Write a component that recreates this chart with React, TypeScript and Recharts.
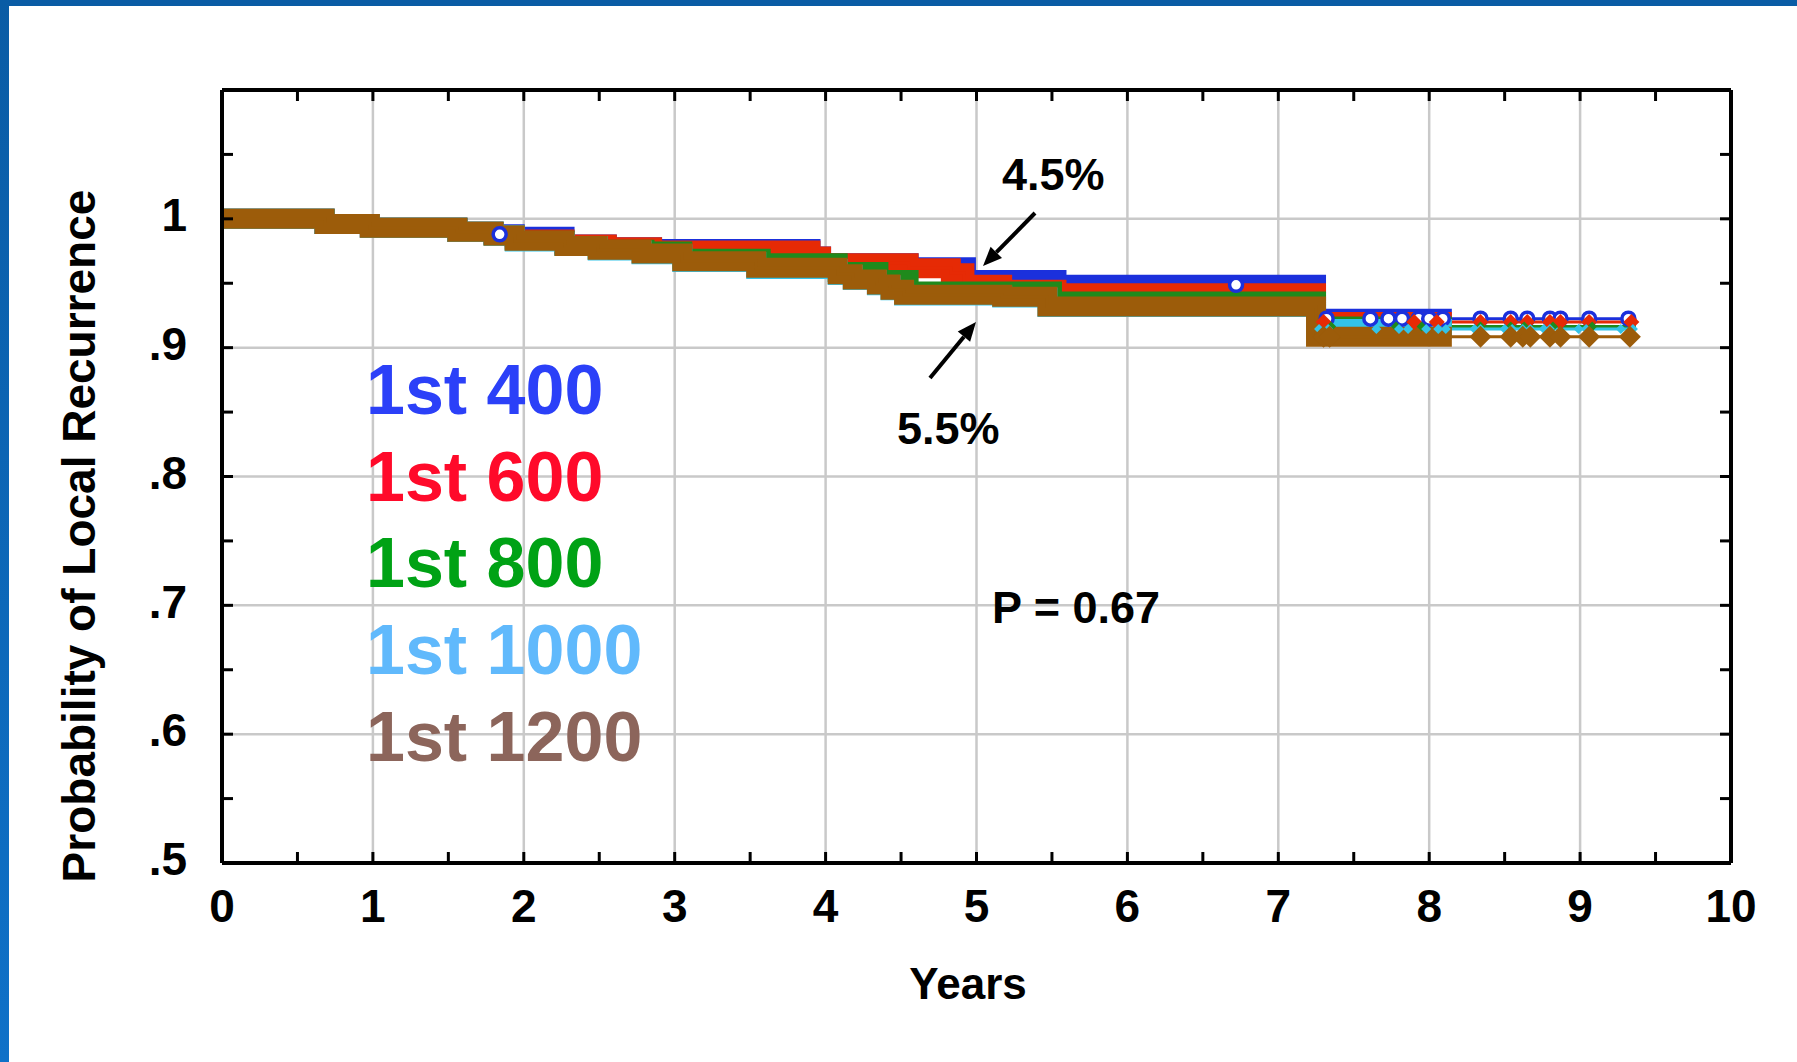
import React from 'react';
import { ComposedChart, Line, Scatter, XAxis, YAxis, CartesianGrid, Legend } from 'recharts';

const FONT = "'Liberation Sans', Arial, Helvetica, sans-serif";

// axis ticks
const YEAR_TICKS = [0, 1, 2, 3, 4, 5, 6, 7, 8, 9, 10];
const HALF_YEAR_TICKS = [0.5, 1, 1.5, 2, 2.5, 3, 3.5, 4, 4.5, 5, 5.5, 6, 6.5, 7, 7.5, 8, 8.5, 9, 9.5];
const PROB_TICKS = [0.5, 0.6, 0.7, 0.8, 0.9, 1];
const PROB_MINOR_TICKS = [0.55, 0.6, 0.65, 0.7, 0.75, 0.8, 0.85, 0.9, 0.95, 1, 1.05];

const GROUPS = ['1st 400', '1st 600', '1st 800', '1st 1000', '1st 1200'];

// Kaplan-Meier steps (years, probability)
const T_400 = [0, 0.68, 0.98, 1.56, 1.8, 1.94, 2.27, 2.55, 2.85, 3.9, 3.97, 4.55, 4.93, 5.53, 7.25, 9.37];
const S_400 = [1, 0.996, 0.993, 0.99, 0.988, 0.986, 0.98, 0.978, 0.9765, 0.9707, 0.9656, 0.9625, 0.9526, 0.9488, 0.9225, 0.9225];

const T_600 = [0, 0.68, 0.98, 1.56, 1.8, 1.94, 2.27, 2.55, 2.85, 3.9, 3.97, 4.55, 4.83, 4.92, 5.17, 5.53, 7.25, 9.37];
const S_600 = [1, 0.996, 0.993, 0.99, 0.987, 0.984, 0.98, 0.978, 0.9755, 0.9707, 0.9656, 0.9617, 0.9578, 0.9488, 0.9449, 0.9423, 0.92, 0.92];

const T_800 = [0, 0.68, 0.98, 1.56, 1.8, 1.94, 2.27, 2.49, 2.8, 3.05, 3.57, 4.08, 4.35, 4.55, 5.5, 7.25, 9.37];
const S_800 = [1, 0.996, 0.993, 0.99, 0.987, 0.983, 0.979, 0.976, 0.9746, 0.969, 0.9656, 0.9588, 0.9526, 0.9435, 0.9358, 0.9165, 0.9165];

const T_1000 = [0, 0.68, 0.98, 1.56, 1.8, 1.94, 2.27, 2.49, 2.78, 3.05, 3.54, 4.08, 4.18, 4.34, 4.43, 4.52, 5.17, 5.47, 7.25, 9.37];
const S_1000 = [1, 0.996, 0.993, 0.99, 0.987, 0.9825, 0.979, 0.9755, 0.9725, 0.9665, 0.961, 0.9565, 0.9525, 0.9485, 0.9445, 0.9405, 0.939, 0.9315, 0.9145, 0.9145];

const T_1200 = [0, 0.68, 0.98, 1.56, 1.8, 1.94, 2.27, 2.49, 2.78, 3.05, 3.54, 4.08, 4.18, 4.34, 4.43, 4.52, 5.17, 5.47, 7.25, 9.37];
const S_1200 = [1, 0.996, 0.993, 0.99, 0.987, 0.983, 0.979, 0.976, 0.973, 0.967, 0.962, 0.957, 0.953, 0.949, 0.945, 0.941, 0.9395, 0.932, 0.9085, 0.9085];

// censored observations that show up as separate marks late in follow-up
const CENSOR_400 = [1.84, 6.72, 7.32, 7.61, 7.73, 7.82, 7.93, 8.0, 8.09, 8.34, 8.54, 8.65, 8.8, 8.87, 9.06, 9.32];
const CENSOR_600 = [7.3, 7.9, 8.05, 8.34, 8.54, 8.65, 8.8, 8.87, 9.06, 9.34];
const CENSOR_800 = [7.35, 7.78, 7.95, 8.34, 8.54, 8.63, 8.82, 9.08];
const CENSOR_1000 = [7.27, 7.33, 7.65, 7.8, 7.86, 7.98, 8.06, 8.11, 8.3, 8.34, 8.5, 8.55, 8.62, 8.67, 8.76, 8.8, 8.99, 9.04, 9.27, 9.35];
const CENSOR_1200 = [7.3, 7.34, 8.34, 8.54, 8.62, 8.67, 8.8, 8.87, 9.06, 9.33];

// up to here censoring is so dense that the marks merge into a thick band
const DENSE_END = 8.15;

const toSteps = (t: number[], s: number[]) => t.map((x, i) => ({ t: x, s: s[i] }));
const valueAt = (pts: { t: number; s: number }[], x: number) => {
  let v = pts[0].s;
  for (const p of pts) if (p.t <= x) v = p.s;
  return v;
};

type Marker = 'circle' | 'diamond' | 'smallDiamond' | 'bigDiamond';

const SERIES = [
  { key: 'g400', steps: toSteps(T_400, S_400), censor: CENSOR_400, color: '#1b30dc', legend: '#2b40f8', marker: 'circle' as Marker },
  { key: 'g600', steps: toSteps(T_600, S_600), censor: CENSOR_600, color: '#e62a05', legend: '#ff0a2a', marker: 'diamond' as Marker },
  { key: 'g800', steps: toSteps(T_800, S_800), censor: CENSOR_800, color: '#1f8a1c', legend: '#00a215', marker: 'smallDiamond' as Marker },
  { key: 'g1000', steps: toSteps(T_1000, S_1000), censor: CENSOR_1000, color: '#33c3e8', legend: '#60b9fc', marker: 'smallDiamond' as Marker },
  { key: 'g1200', steps: toSteps(T_1200, S_1200), censor: CENSOR_1200, color: '#9c5c0a', legend: '#8c655b', marker: 'bigDiamond' as Marker },
];

const makeShape = (kind: Marker, color: string) => (props: any) => {
  const { cx, cy } = props;
  if (cx == null || cy == null) return <g />;
  if (kind === 'circle') {
    return <circle cx={cx} cy={cy} r={6.5} fill="#fff" stroke={color} strokeWidth={3.5} />;
  }
  const h = kind === 'bigDiamond' ? 11 : kind === 'diamond' ? 8 : 5;
  return (
    <polygon
      points={`${cx},${cy - h} ${cx + h},${cy} ${cx},${cy + h} ${cx - h},${cy}`}
      fill={color}
    />
  );
};

const arrow = (x1: number, y1: number, x2: number, y2: number) => {
  const len = Math.hypot(x2 - x1, y2 - y1);
  const ux = (x2 - x1) / len;
  const uy = (y2 - y1) / len;
  const bx = x2 - ux * 19;
  const by = y2 - uy * 19;
  const px = -uy * 8;
  const py = ux * 8;
  return (
    <g>
      <line x1={x1} y1={y1} x2={bx} y2={by} stroke="#000" strokeWidth={4} />
      <polygon points={`${x2},${y2} ${bx + px},${by + py} ${bx - px},${by - py}`} fill="#000" />
    </g>
  );
};

const LegendBlock = () => (
  <div>
    {GROUPS.map((g, i) => (
      <div
        key={g}
        style={{
          color: SERIES[i].legend,
          fontFamily: FONT,
          fontWeight: 'bold',
          fontSize: 70,
          lineHeight: '86.7px',
          whiteSpace: 'nowrap',
        }}
      >
        {g}
      </div>
    ))}
  </div>
);

const probLabel = (v: number) => (v > 0.999 ? '1' : '.' + Math.round(v * 10));
const noLabel = () => <g />;

const frameProps = {
  type: 'number' as const,
  allowDataOverflow: true,
  interval: 0 as const,
  mirror: true,
  tick: noLabel,
  tickSize: 11,
  tickLine: { stroke: '#000', strokeWidth: 3 },
  axisLine: { stroke: '#000', strokeWidth: 4 },
};

const App: React.FC = () => {
  const items: React.ReactElement[] = [];
  SERIES.forEach((sr) => {
    const dense = [...sr.steps.filter((p) => p.t < DENSE_END), { t: DENSE_END, s: valueAt(sr.steps, DENSE_END) }];
    const marks = sr.censor.map((c) => ({ t: c, s: valueAt(sr.steps, c) }));
    items.push(
      <Line
        key={sr.key + '-band'}
        data={dense}
        dataKey="s"
        xAxisId="minB"
        yAxisId="main"
        type="stepAfter"
        stroke={sr.color}
        strokeWidth={20}
        strokeLinejoin="miter"
        dot={false}
        activeDot={false}
        isAnimationActive={false}
      />,
      <Line
        key={sr.key + '-line'}
        data={sr.steps}
        dataKey="s"
        xAxisId="main"
        yAxisId="main"
        type="stepAfter"
        stroke={sr.color}
        strokeWidth={3}
        dot={false}
        activeDot={false}
        isAnimationActive={false}
      />,
      <Scatter
        key={sr.key + '-censor'}
        data={marks}
        dataKey="s"
        xAxisId="minT"
        yAxisId="main"
        shape={makeShape(sr.marker, sr.color)}
        isAnimationActive={false}
      />
    );
  });

  const tickFont = { fill: '#000', fontSize: 46, fontWeight: 'bold', fontFamily: FONT };

  return (
    <div style={{ position: 'relative', width: 1797, height: 1062, background: '#fff', overflow: 'hidden' }}>
      <style>{'body{margin:0;}'}</style>
      <ComposedChart width={1797} height={1062} margin={{ top: 90, right: 66, bottom: 139, left: 92 }}>
        <CartesianGrid xAxisId="main" yAxisId="main" stroke="#c9c9c9" strokeWidth={2.5} />
        <XAxis
          xAxisId="main"
          dataKey="t"
          type="number"
          domain={[0, 10]}
          allowDataOverflow
          ticks={YEAR_TICKS}
          interval={0}
          height={60}
          axisLine={false}
          tickLine={false}
          tickMargin={20}
          tick={tickFont}
        />
        <XAxis xAxisId="minB" dataKey="t" orientation="bottom" domain={[0, 10]} ticks={HALF_YEAR_TICKS} height={12} {...frameProps} />
        <XAxis xAxisId="minT" dataKey="t" orientation="top" domain={[0, 10]} ticks={HALF_YEAR_TICKS} height={12} {...frameProps} />
        <YAxis
          yAxisId="main"
          dataKey="s"
          type="number"
          domain={[0.5, 1.1]}
          allowDataOverflow
          ticks={PROB_TICKS}
          interval={0}
          width={130}
          axisLine={false}
          tickLine={false}
          tickMargin={29}
          tickFormatter={probLabel}
          tick={{ ...tickFont, dy: -4 }}
        />
        <YAxis yAxisId="minL" orientation="left" domain={[0.5, 1.1]} ticks={PROB_MINOR_TICKS} width={12} {...frameProps} />
        <YAxis yAxisId="minR" orientation="right" domain={[0.5, 1.1]} ticks={PROB_MINOR_TICKS} width={12} {...frameProps} />
        {items}
        <Legend
          layout="vertical"
          align="center"
          verticalAlign="middle"
          wrapperStyle={{ left: 366, top: 347, width: 'auto', height: 'auto' }}
          content={() => <LegendBlock />}
        />
      </ComposedChart>

      <svg width={1797} height={1062} style={{ position: 'absolute', left: 0, top: 0, pointerEvents: 'none' }}>
        <g fontFamily={FONT} fontWeight="bold" fill="#000">
          <text x={95} y={536} fontSize={46} textAnchor="middle" transform="rotate(-90 95 536)">
            Probability of Local Recurrence
          </text>
          <text x={968} y={999} fontSize={44} textAnchor="middle">Years</text>
          <text x={1002} y={190} fontSize={45}>4.5%</text>
          <text x={897} y={444} fontSize={45}>5.5%</text>
          <text x={992} y={623} fontSize={45}>P = 0.67</text>
        </g>
        {arrow(1035, 213, 983, 266)}
        {arrow(930, 378, 976, 322)}
      </svg>

      <div style={{ position: 'absolute', left: 0, top: 0, width: 1797, height: 6, background: '#0a5ca5' }} />
      <div
        style={{
          position: 'absolute',
          left: 0,
          top: 0,
          width: 9,
          height: 1062,
          background: 'linear-gradient(#0a5ca5, #0f71c8)',
        }}
      />
    </div>
  );
};

export default App;
